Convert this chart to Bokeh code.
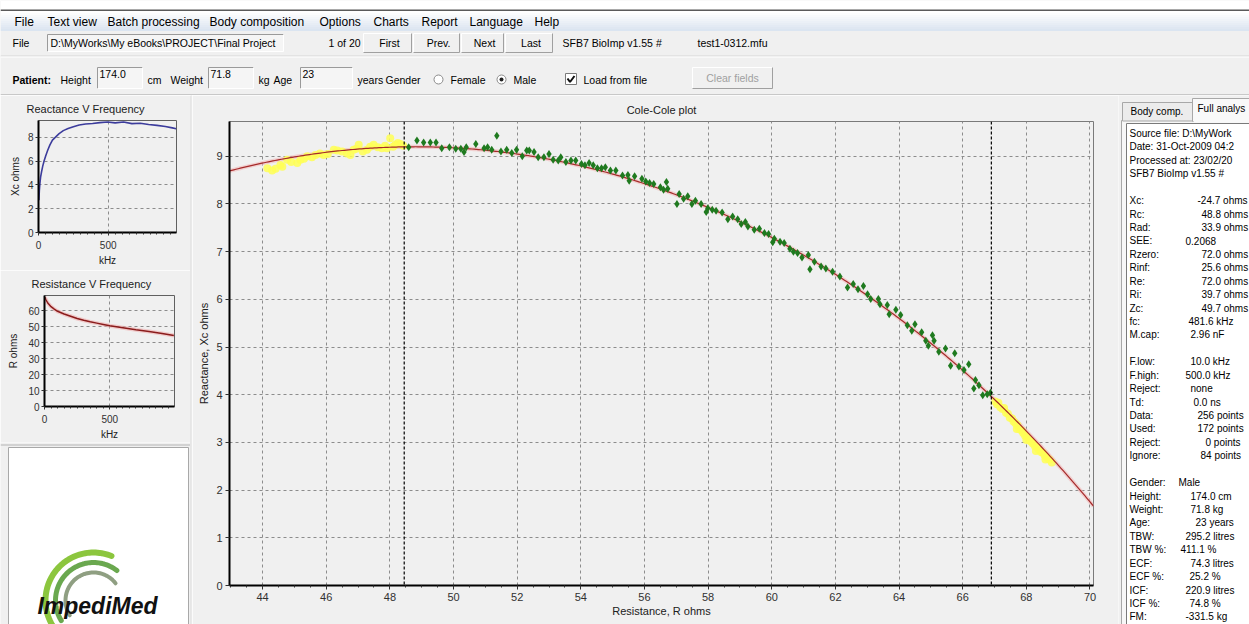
import numpy as np
from bokeh.plotting import figure
from bokeh.models import Range1d, Span, SingleIntervalTicker, FixedTicker
from bokeh.layouts import row, column
from bokeh.core.properties import value
from bokeh.embed import file_html
from bokeh.resources import INLINE

UI = "Liberation Sans"
UI_FONT = value(UI)
BG = "#f0f0f0"

# ---------------- data ----------------
# Cole-Cole fit parameters (ohms)
fit_xc = -24.7
fit_rc = 48.8
fit_rad = 33.9

# Resistance at the analysis frequency limits (dashed markers)
window_r = [48.45, 66.9]

# Used points: resistance (ohms) / reactance (ohms)
used_r = [48.59, 48.85, 49.06, 49.27, 49.45, 49.63, 49.87, 50.07, 50.23, 50.33, 50.40, 50.70,
          50.96, 51.07, 51.20, 51.36, 51.49, 51.67, 51.83, 51.98, 52.16, 52.30, 52.38, 52.53,
          52.66, 52.84, 53.00, 53.13, 53.29, 53.37, 53.53, 53.69, 53.84, 54.02, 54.13, 54.26,
          54.39, 54.52, 54.65, 54.77, 54.93, 55.10, 55.31, 55.48, 55.52, 55.69, 55.92, 56.04,
          56.16, 56.29, 56.50, 56.60, 56.69, 56.73, 57.02, 57.09, 57.23, 57.36, 57.49, 57.60,
          57.78, 57.94, 57.99, 58.13, 58.25, 58.44, 58.62, 58.77, 58.93, 59.04, 59.17, 59.25,
          59.45, 59.61, 59.77, 59.90, 60.03, 60.08, 60.26, 60.39, 60.57, 60.68, 60.81, 60.95,
          61.15, 61.20, 61.34, 61.55, 61.70, 61.91, 62.14, 62.38, 62.56, 62.71, 62.88, 63.01,
          63.11, 63.35, 63.40, 63.63, 63.69, 63.90, 64.05, 64.26, 64.40, 64.50, 64.71, 64.84,
          64.92, 65.05, 65.10, 65.25, 65.46, 65.62, 65.75, 65.88, 66.04, 66.19, 66.35, 66.40,
          66.51, 66.63, 66.77, 66.87]
used_xc = [9.19, 9.33, 9.29, 9.29, 9.29, 9.17, 9.19, 9.16, 9.16, 9.09, 9.19, 9.26,
           9.17, 9.19, 9.14, 9.43, 9.10, 9.14, 9.07, 9.14, 9.00, 9.12, 9.12, 9.09,
           8.98, 8.98, 9.05, 8.93, 8.91, 8.98, 8.88, 8.91, 8.91, 8.84, 8.81, 8.86,
           8.81, 8.75, 8.75, 8.77, 8.70, 8.70, 8.60, 8.61, 8.49, 8.58, 8.53, 8.47,
           8.44, 8.42, 8.35, 8.30, 8.46, 8.32, 8.00, 8.21, 8.11, 8.16, 8.00, 8.07,
           8.00, 7.83, 7.91, 7.88, 7.86, 7.82, 7.68, 7.74, 7.68, 7.58, 7.62, 7.53,
           7.46, 7.48, 7.39, 7.37, 7.20, 7.27, 7.21, 7.18, 7.06, 7.00, 6.97, 6.88,
           6.93, 6.63, 6.79, 6.69, 6.65, 6.58, 6.48, 6.25, 6.32, 6.21, 6.28, 6.11,
           6.01, 6.01, 5.90, 5.88, 5.69, 5.78, 5.67, 5.46, 5.34, 5.48, 5.31, 5.13,
           5.03, 5.25, 5.13, 4.90, 4.97, 4.61, 4.87, 4.59, 4.52, 4.64, 4.13, 4.31,
           4.20, 3.99, 4.01, 4.04]

# Ignored points (outside the frequency window)
ignored_r = [44.15, 44.30, 44.41, 44.56, 44.62, 44.77, 44.90, 45.09, 45.19, 45.30, 45.40, 45.55,
             45.66, 45.80, 45.92, 46.05, 46.24, 46.35, 46.50, 46.65, 46.76, 46.86, 46.95, 47.02,
             47.15, 47.28, 47.38, 47.49, 47.62, 47.75, 47.85, 47.91, 48.01, 48.10, 48.17, 48.25,
             48.33, 48.42,
             67.02, 67.08, 67.12, 67.18, 67.25, 67.30, 67.36, 67.42, 67.48, 67.55, 67.60, 67.66,
             67.70, 67.72, 67.78, 67.85, 67.90, 67.96, 68.00, 68.02, 68.08, 68.14, 68.20, 68.27,
             68.30, 68.33, 68.40, 68.46, 68.52, 68.58, 68.60, 68.65, 68.72, 68.80]
ignored_xc = [8.75, 8.70, 8.74, 8.82, 8.78, 8.93, 8.88, 8.86, 8.93, 8.95, 9.00, 8.98,
              9.03, 9.06, 9.03, 9.05, 9.14, 9.12, 9.10, 9.06, 9.03, 9.14, 9.16, 9.24,
              9.10, 9.14, 9.20, 9.24, 9.19, 9.17, 9.22, 9.17, 9.38, 9.20, 9.24, 9.28,
              9.26, 9.22,
              3.86, 3.80, 3.83, 3.74, 3.70, 3.72, 3.62, 3.60, 3.52, 3.50, 3.44, 3.40,
              3.28, 3.36, 3.28, 3.25, 3.20, 3.14, 3.05, 3.12, 3.05, 3.02, 2.98, 2.92,
              2.82, 2.90, 2.84, 2.80, 2.78, 2.72, 2.64, 2.68, 2.64, 2.58]

# Reactance vs frequency
xf_khz = [3, 6, 10, 15, 22, 30, 40, 52, 66, 82, 100, 122, 148, 178, 212, 250, 292, 338, 388, 440,
          495, 550, 610, 670, 730, 790, 850, 910, 960, 988]
xf_xc = [2.7, 3.5, 4.1, 4.65, 5.1, 5.55, 6.0, 6.45, 6.9, 7.35, 7.75, 8.0, 8.3, 8.55, 8.72, 8.88,
         9.02, 9.1, 9.15, 9.22, 9.28, 9.2, 9.27, 9.14, 9.17, 9.06, 8.99, 8.9, 8.78, 8.7]

# Resistance vs frequency
rf_khz = [2, 10, 25, 50, 75, 100, 150, 200, 250, 300, 350, 400, 450, 500, 600, 700, 800, 900, 990]
rf_r = [68.5, 67.0, 64.8, 62.5, 61.0, 59.6, 57.9, 56.5, 55.1, 54.0, 53.0, 52.2, 51.4, 50.6, 49.3,
        48.0, 46.9, 45.7, 44.5]

# Menu / toolbar texts
menu_items = ["File", "Text view", "Batch processing", "Body composition", "Options", "Charts",
              "Report", "Language", "Help"]
nav_buttons = ["First", "Prev.", "Next", "Last"]
file_path = "D:\\MyWorks\\My eBooks\\PROJECT\\Final Project"
record_pos = "1 of 20"
version_text = "SFB7 BioImp v1.55 #"
file_name = "test1-0312.mfu"
patient_height = "174.0"
patient_weight = "71.8"
patient_age = "23"

# Full analysis panel
info_head = ["Source file: D:\\MyWork", "Date: 31-Oct-2009 04:2", "Processed at: 23/02/20",
             "SFB7 BioImp v1.55 #"]
fit_labels = ["Xc:", "Rc:", "Rad:", "SEE:", "Rzero:", "Rinf:", "Re:", "Ri:", "Zc:", "fc:", "M.cap:"]
fit_values = [f"{fit_xc:.1f} ohms", f"{fit_rc:.1f} ohms", f"{fit_rad:.1f} ohms", "0.2068",
              "72.0 ohms", "25.6 ohms", "72.0 ohms", "39.7 ohms", "49.7 ohms", "481.6 kHz", "2.96 nF"]
run_labels = ["F.low:", "F.high:", "Reject:", "Td:", "Data:", "Used:", "Reject:", "Ignore:"]
run_values = ["10.0 kHz", "500.0 kHz", "none", "0.0 ns", "256 points", "172 points", "0 points",
              "84 points"]
body_labels = ["Gender:", "Height:", "Weight:", "Age:", "TBW:", "TBW %:", "ECF:", "ECF %:", "ICF:",
               "ICF %:", "FM:"]
body_values = ["Male", "174.0 cm", "71.8 kg", "23 years", "295.2 litres", "411.1 %", "74.3 litres",
               "25.2 %", "220.9 litres", "74.8 %", "-331.5 kg"]


# ---------------- helpers ----------------
def pixel_fig(x0, y0, w, h):
    f = figure(width=w, height=h, x_range=Range1d(x0, x0 + w), y_range=Range1d(y0 + h, y0),
               x_axis_location=None, y_axis_location=None, output_backend="svg",
               toolbar_location=None, min_border=0)
    f.frame_align = False
    f.grid.visible = False
    f.outline_line_color = None
    f.background_fill_color = BG
    f.border_fill_color = BG
    return f


def txt(f, x, y, s, size="10.5px", color="#000000", align="left", style="normal", font=UI_FONT):
    f.text(x=[x], y=[y], text=[s], text_font=font, text_font_size=size, text_color=color,
           text_align=align, text_baseline="middle", text_font_style=style)


def box(f, l, r, t, b, fill, line=None, lw=1):
    f.quad(left=[l], right=[r], top=[t], bottom=[b], fill_color=fill, line_color=line, line_width=lw)


def sunken(f, l, r, t, b, fill="#f5f5f5"):
    box(f, l, r, t, b, fill)
    f.segment(x0=[l, l], y0=[t, t], x1=[r, l], y1=[t, b], line_color="#9a9a9a", line_width=1)
    f.segment(x0=[l, r], y0=[b, b], x1=[r, r], y1=[b, t], line_color="#ffffff", line_width=1)


def raised(f, l, r, t, b):
    box(f, l, r, t, b, "#f0f0f0")
    f.segment(x0=[l, l], y0=[t, t], x1=[r, l], y1=[t, b], line_color="#ffffff", line_width=1)
    f.segment(x0=[l, r], y0=[b, b], x1=[r, r], y1=[b, t], line_color="#a0a0a0", line_width=1)


def style_axis(ax, size="11px"):
    ax.major_label_text_font = UI
    ax.major_label_text_font_size = size
    ax.major_label_text_color = "#303030"
    ax.axis_label_text_font = UI
    ax.axis_label_text_font_size = size
    ax.axis_label_text_font_style = "normal"
    ax.axis_label_text_color = "#202020"
    ax.axis_line_color = "black"
    ax.axis_line_width = 2
    ax.major_tick_line_color = "#303030"
    ax.minor_tick_line_color = "#303030"
    ax.major_tick_in = 0
    ax.minor_tick_in = 0


def style_grid(g):
    g.grid_line_color = "#8c8c8c"
    g.grid_line_dash = "3 3"
    g.grid_line_width = 1


def style_title(p, align, offset, standoff):
    p.title.text_font = UI
    p.title.text_font_size = "11px"
    p.title.text_font_style = "normal"
    p.title.text_color = "#202020"
    p.title.align = align
    p.title.offset = offset
    p.title.standoff = standoff


# ---------------- top bar ----------------
top = pixel_fig(0, 0, 1249, 95)
box(top, 0, 1249, 0, 9, "#ffffff")
box(top, 0, 1249, 9, 10.5, "#5a5a5a")
for i in range(10):
    t = i / 9.0
    c = "#%02x%02x%02x" % (int(255 - t * 36), int(255 - t * 26), int(255 - t * 14))
    box(top, 0, 1249, 10.5 + i * 2, 12.5 + i * 2, c)
menu_x = [14, 47, 107, 209, 319, 373, 421, 469, 534]
for s, x in zip(menu_items, menu_x):
    txt(top, x, 21, s, size="12px")

txt(top, 12, 42.5, "File")
sunken(top, 47, 283, 34, 51)
txt(top, 50, 42.5, file_path, size="10.5px")
txt(top, 328, 42.5, record_pos)
btn_edges = [362, 412, 460, 504, 553]
for i, s in enumerate(nav_buttons):
    l, r = btn_edges[i], btn_edges[i + 1]
    raised(top, l + 1, r - 1, 33, 52)
    txt(top, (l + r) / 2 + 2, 42.5, s, align="center")
txt(top, 562, 42.5, version_text)
txt(top, 697, 42.5, file_name)

box(top, 0, 1249, 55, 56, "#d6d6d6")
box(top, 0, 1249, 56, 57, "#ffffff")
txt(top, 12, 79, "Patient:", style="bold")
txt(top, 60, 79, "Height")
sunken(top, 97, 142, 67, 88)
txt(top, 99, 73, patient_height)
txt(top, 147, 79, "cm")
txt(top, 170, 79, "Weight")
sunken(top, 208, 253, 67, 88)
txt(top, 210, 73, patient_weight)
txt(top, 258, 79, "kg")
txt(top, 273, 79, "Age")
sunken(top, 300, 352, 67, 88)
txt(top, 302, 73, patient_age)
txt(top, 357, 79, "years")
txt(top, 385, 79, "Gender")
top.scatter(x=[438, 501], y=[79, 79], size=9, marker="circle", fill_color="#ffffff",
            line_color="#8a8a8a")
top.scatter(x=[501], y=[79], size=4, marker="circle", fill_color="#202020", line_color=None)
txt(top, 450, 79, "Female")
txt(top, 513, 79, "Male")
box(top, 565, 576, 73, 84, "#ffffff", line="#7a7a7a")
top.line(x=[567, 569.5, 574], y=[78, 81.5, 75.5], line_color="#101010", line_width=2)
txt(top, 583, 79, "Load from file")
raised(top, 692, 772, 67, 88)
txt(top, 732, 77, "Clear fields", color="#a0a0a0", align="center")
box(top, 0, 1249, 93.5, 94.5, "#c8c8c8")

# ---------------- reactance vs frequency ----------------
rx = figure(width=190, height=175, x_range=Range1d(0, 990), y_range=Range1d(0, 9.4),
            output_backend="svg", toolbar_location=None, title="Reactance V Frequency",
            min_border_left=38, min_border_right=14, min_border_top=24, min_border_bottom=38)
rx.frame_align = False
rx.background_fill_color = BG
rx.border_fill_color = BG
rx.outline_line_color = "#606060"
style_title(rx, "left", -12, 11)
rx.xaxis.ticker = FixedTicker(ticks=[0, 500], minor_ticks=list(range(0, 1000, 50)))
rx.yaxis.ticker = FixedTicker(ticks=[0, 2, 4, 6, 8], minor_ticks=[])
rx.xaxis.axis_label = "kHz"
rx.yaxis.axis_label = "Xc ohms"
for ax in (rx.xaxis[0], rx.yaxis[0]):
    style_axis(ax, "10px")
    ax.major_tick_out = 3
    ax.minor_tick_out = 2
rx.yaxis.major_label_standoff = 2
rx.yaxis.axis_label_standoff = 4
rx.xaxis.major_label_standoff = 5
rx.xaxis.axis_label_standoff = 3
rx.xgrid.ticker = FixedTicker(ticks=[500])
rx.ygrid.ticker = FixedTicker(ticks=[2, 4, 6, 8])
style_grid(rx.xgrid)
style_grid(rx.ygrid)
rx.line(xf_khz, xf_xc, line_color="#3c3c9c", line_width=1.6)

# ---------------- resistance vs frequency ----------------
rr = figure(width=190, height=172, x_range=Range1d(0, 995), y_range=Range1d(0, 69.5),
            output_backend="svg", toolbar_location=None, title="Resistance V Frequency",
            min_border_left=44, min_border_right=16, min_border_top=25, min_border_bottom=36)
rr.frame_align = False
rr.background_fill_color = BG
rr.border_fill_color = BG
rr.outline_line_color = "#606060"
style_title(rr, "left", -13, 11)
rr.xaxis.ticker = FixedTicker(ticks=[0, 500], minor_ticks=list(range(0, 1000, 50)))
rr.yaxis.ticker = FixedTicker(ticks=[0, 10, 20, 30, 40, 50, 60], minor_ticks=[])
rr.xaxis.axis_label = "kHz"
rr.yaxis.axis_label = "R ohms"
for ax in (rr.xaxis[0], rr.yaxis[0]):
    style_axis(ax, "10px")
    ax.major_tick_out = 3
    ax.minor_tick_out = 2
rr.yaxis.major_label_standoff = 2
rr.yaxis.axis_label_standoff = 6
rr.xaxis.major_label_standoff = 5
rr.xaxis.axis_label_standoff = 3
rr.xgrid.ticker = FixedTicker(ticks=[500])
rr.ygrid.ticker = FixedTicker(ticks=[10, 20, 30, 40, 50, 60])
style_grid(rr.xgrid)
style_grid(rr.ygrid)
rr.line(rf_khz, rf_r, line_color="#f0b0b0", line_width=4, line_alpha=0.6)
rr.line(rf_khz, rf_r, line_color="#8b1c1c", line_width=1.5)

# ---------------- logo panel ----------------
logo = pixel_fig(0, 442, 190, 182)
box(logo, 0, 190, 444, 445, "#b4b4b4")
box(logo, 8, 188, 447, 640, "#ffffff", line="#a8a8a8")
for rad, a0, lw, col in [(48, 68, 6, "#8cc63e"), (38, 52, 5, "#6aa84f"), (28, 38, 4, "#8f9f82")]:
    ang = np.radians(np.linspace(a0, 212, 60))
    logo.line(93 + rad * np.cos(ang), 600 - rad * np.sin(ang), line_color=col, line_width=lw,
              line_cap="round")
txt(logo, 97, 605, "ImpediMed", size="23px", color="#111111", align="center",
    style="bold italic")

# thin divider between the side charts and the main plot
divider = pixel_fig(190, 95, 2, 529)
box(divider, 190, 191, 95, 624, "#b4b4b4")
box(divider, 191, 192, 95, 624, "#ffffff")

# ---------------- Cole-Cole plot ----------------
main = figure(width=926, height=529, x_range=Range1d(42.96, 70.11), y_range=Range1d(0, 9.73),
              output_backend="svg", toolbar_location=None, title="Cole-Cole plot",
              min_border_left=37, min_border_right=25, min_border_top=26, min_border_bottom=39)
main.frame_align = False
main.background_fill_color = BG
main.border_fill_color = BG
main.outline_line_color = "#7a7a7a"
style_title(main, "center", 0, 12)
main.xaxis.ticker = SingleIntervalTicker(interval=2, num_minor_ticks=4)
main.yaxis.ticker = SingleIntervalTicker(interval=1, num_minor_ticks=0)
main.xaxis.axis_label = "Resistance, R ohms"
main.yaxis.axis_label = "Reactance, Xc ohms"
for ax in (main.xaxis[0], main.yaxis[0]):
    style_axis(ax, "11px")
    ax.major_tick_out = 4
    ax.minor_tick_out = 2
main.yaxis.major_label_standoff = 3
main.yaxis.axis_label_standoff = 3
main.xaxis.major_label_standoff = 3
main.xaxis.axis_label_standoff = 1
style_grid(main.xgrid)
style_grid(main.ygrid)
for r in window_r:
    main.add_layout(Span(location=r, dimension="height", line_color="#000000",
                         line_dash="3 2", line_width=1.2))

r_curve = np.linspace(42.96, 70.11, 400)
xc_curve = fit_xc + np.sqrt(fit_rad ** 2 - (r_curve - fit_rc) ** 2)
main.line(r_curve, xc_curve, line_color="#f2b4b4", line_width=4, line_alpha=0.55)
main.scatter(ignored_r, ignored_xc, marker="circle", size=8, fill_color="#ffff55",
             fill_alpha=0.85, line_color=None)
main.line(r_curve, xc_curve, line_color="#a52a2a", line_width=1.2)
main.scatter(used_r, used_xc, marker="diamond", size=8, fill_color="#1f7a1f",
             line_color=None)

# ---------------- full analysis panel ----------------
side = pixel_fig(1118, 95, 131, 529)
box(side, 1121, 1260, 120, 640, "#f7f7f7", line="#a8a8a8")
box(side, 1122, 1192, 102, 120.5, "#ececec", line="#a8a8a8")
box(side, 1192, 1260, 98, 121, "#f9f9f9", line="#a8a8a8")
box(side, 1193, 1260, 119, 122, "#f9f9f9")
txt(side, 1130, 111, "Body comp.", size="10px")
txt(side, 1197, 108, "Full analys", size="10px")
box(side, 1126, 1260, 123, 640, "#ffffff", line="#7a7a7a")

step = 13.43
y0 = 133
lab_x = 1129
for i, s in enumerate(info_head):
    txt(side, lab_x, y0 + i * step, s, size="10px")
fit_vx = [1197, 1201, 1201, 1185, 1201, 1201, 1201, 1201, 1201, 1188, 1190]
for i, (l, v) in enumerate(zip(fit_labels, fit_values)):
    y = y0 + (5 + i) * step
    txt(side, lab_x, y, l, size="10px")
    txt(side, fit_vx[i], y, v, size="10px")
run_vx = [1190, 1185, 1190, 1193, 1197, 1197, 1205, 1200]
for i, (l, v) in enumerate(zip(run_labels, run_values)):
    y = y0 + (17 + i) * step
    txt(side, lab_x, y, l, size="10px")
    txt(side, run_vx[i], y, v, size="10px")
body_vx = [1178, 1190, 1190, 1195, 1185, 1180, 1190, 1189, 1185, 1189, 1185]
for i, (l, v) in enumerate(zip(body_labels, body_values)):
    y = y0 + (26 + i) * step
    txt(side, lab_x, y, l, size="10px")
    txt(side, body_vx[i], y, v, size="10px")

page = column(top, row(column(rx, rr, logo), divider, main, side))
open("out.html", "w").write(file_html(page, INLINE, title="Cole-Cole plot"))
